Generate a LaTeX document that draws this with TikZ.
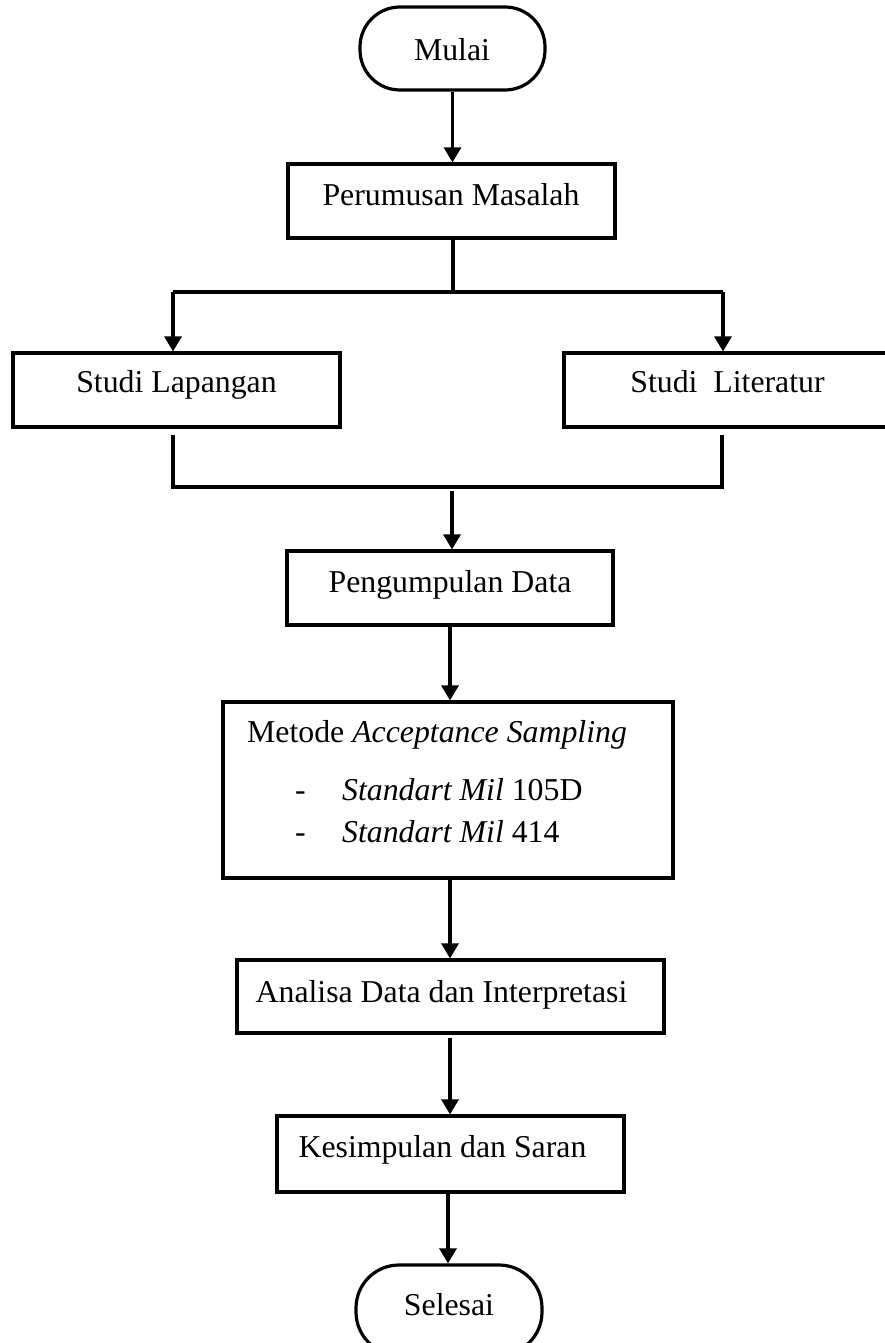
\documentclass[tikz,border=0pt]{standalone}
\usepackage{fontspec}
\setmainfont{Liberation Serif}
\usetikzlibrary{arrows.meta}
\begin{document}
\begin{tikzpicture}[x=1pt,y=-1pt,
  every node/.style={font=\fontsize{31.8}{38}\selectfont},
  procbox/.style={draw=black, line width=3.2pt, rectangle, inner sep=0pt},
  termbox/.style={draw=black, line width=3.2pt, rectangle, rounded corners=40pt, inner sep=0pt},
  txt/.style={inner sep=0pt, anchor=base},
  conn/.style={line width=3.2pt, draw=black},
  arr/.style={conn, -{Triangle[length=15pt,width=17pt]}}
]
\useasboundingbox (0,0) rectangle (884,1343);

% boxes
\node[termbox, minimum width=185pt, minimum height=83pt] (mulai) at (452.5,48.5) {};
\node[procbox, minimum width=327pt, minimum height=74pt] (perumusan) at (451.5,201) {};
\node[procbox, minimum width=327pt, minimum height=74pt] (lapangan) at (176.5,390) {};
\node[procbox, minimum width=327pt, minimum height=74pt] (literatur) at (727.5,390) {};
\node[procbox, minimum width=326pt, minimum height=74pt] (pengumpulan) at (450,588) {};
\node[procbox, minimum width=450pt, minimum height=176pt] (metode) at (448,790) {};
\node[procbox, minimum width=427pt, minimum height=73pt] (analisa) at (450.5,996.5) {};
\node[procbox, minimum width=347pt, minimum height=76pt] (kesimpulan) at (450.5,1154) {};
\node[termbox, minimum width=186pt, minimum height=90pt, rounded corners=43pt] (selesai) at (449,1310) {};

% texts
\node[txt] (tmulai) at (452,61) {Mulai};
\node[txt] (tperumusan) at (451,205) {Perumusan Masalah};
\node[txt] (tlapangan) at (176.5,392) {Studi Lapangan};
\node[txt] (tliteratur) at (727.5,392) {Studi\ \ Literatur};
\node[txt] (tpengumpulan) at (450,592) {Pengumpulan Data};
\node[txt, anchor=base west] (tmetode) at (247,742) {Metode \textit{Acceptance Sampling}};
\node[txt, anchor=base west] (dash1) at (295,800) {-};
\node[txt, anchor=base west] (item1) at (342,800) {\textit{Standart Mil} 105D};
\node[txt, anchor=base west] (dash2) at (295,842) {-};
\node[txt, anchor=base west] (item2) at (342,842) {\textit{Standart Mil} 414};
\node[txt] (tanalisa) at (441.5,1002) {Analisa Data dan Interpretasi};
\node[txt] (tkesimpulan) at (442.5,1157) {Kesimpulan dan Saran};
\node[txt] (tselesai) at (449,1315) {Selesai};

% junction coordinates
\coordinate (split) at (453,292);
\coordinate (splitL) at (173,292);
\coordinate (splitR) at (723,292);
\coordinate (joinL) at (173,487);
\coordinate (joinR) at (722,487);
\coordinate (joinM) at (452,487);

% connectors
\draw[arr] (mulai.south) -- (mulai.south |- perumusan.north);
\draw[conn] ([xshift=1.5pt]perumusan.south) -- (split);
\draw[conn] (splitL) -- (splitR);
\draw[arr] (splitL) -- (splitL |- lapangan.north);
\draw[arr] (splitR) -- (splitR |- literatur.north);
\draw[conn] ([xshift=-3.5pt,yshift=-6pt]lapangan.south) -- (joinL) -- (joinR) -- ([xshift=-5.5pt,yshift=-6pt]literatur.south);
\draw[arr] ([yshift=-4pt]joinM) -- (joinM |- pengumpulan.north);
\draw[arr] (pengumpulan.south) -- (pengumpulan.south |- metode.north);
\draw[arr] ([xshift=2pt]metode.south) -- ([xshift=2pt]metode.south |- analisa.north);
\draw[arr] ([xshift=-0.5pt,yshift=-3pt]analisa.south) -- ([xshift=-0.5pt]analisa.south |- kesimpulan.north);
\draw[arr] ([xshift=-2.5pt]kesimpulan.south) -- ([xshift=-2.5pt]kesimpulan.south |- selesai.north);
\end{tikzpicture}
\end{document}
